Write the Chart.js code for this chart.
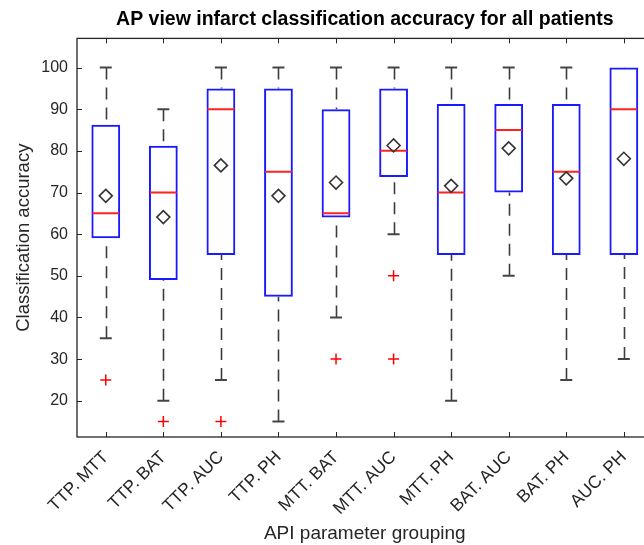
<!DOCTYPE html>
<html>
<head>
<meta charset="utf-8">
<script src="https://cdn.jsdelivr.net/npm/chart.js@4/dist/chart.umd.min.js"></script>
<style>
  html, body { margin: 0; padding: 0; background: #fff; overflow: hidden; }
  #grafico { display: block; }
</style>
</head>
<body>
<canvas id="grafico" width="668" height="545" style="width:668px;height:545px"></canvas>
<script>
// parameter pairs on the x axis
const grupos = ["TTP. MTT", "TTP. BAT", "TTP. AUC", "TTP. PH", "MTT. BAT",
                "MTT. AUC", "MTT. PH", "BAT. AUC", "BAT. PH", "AUC. PH"];

// box statistics per group (accuracy, %)
const bigoteInf = [35, 20, 25, 15, 40, 60, 20, 50, 25, 30];
const cuartil1  = [59, 49, 55, 45, 64, 73.75, 55, 70, 55, 55];
const mediana   = [65, 70, 90, 75, 65, 80, 70, 85, 75, 90];
const cuartil3  = [86.25, 81.25, 95, 95, 90, 95, 91.25, 91.25, 91.25, 100];
const bigoteSup = [100, 90, 100, 100, 100, 100, 100, 100, 100, 100];
const media     = [69.2, 64.1, 76.5, 69.2, 72.4, 81.3, 71.6, 80.6, 73.4, 78.1];
const atipicos  = [[25], [15], [15], [], [30], [50, 30], [], [], [], []];

const ticksY = [20, 30, 40, 50, 60, 70, 80, 90, 100];

const fuente = "'Liberation Sans', Arial, sans-serif";
const gris = "#333333";

// dashed whiskers from the caps to the box edges
const bigotes = {
  id: "bigotes",
  beforeDatasetsDraw(chart) {
    const { ctx, scales: { x, y } } = chart;
    ctx.save();
    ctx.strokeStyle = "#3c3c3c";
    ctx.lineWidth = 1.6;
    ctx.setLineDash([12, 8]);
    grupos.forEach((g, i) => {
      const px = Math.round(x.getPixelForValue(i)) + 0.5;
      ctx.beginPath();
      ctx.moveTo(px, y.getPixelForValue(bigoteSup[i]));
      ctx.lineTo(px, y.getPixelForValue(cuartil3[i]));
      ctx.stroke();
      ctx.beginPath();
      ctx.moveTo(px, y.getPixelForValue(bigoteInf[i]));
      ctx.lineTo(px, y.getPixelForValue(cuartil1[i]));
      ctx.stroke();
    });
    ctx.restore();
  }
};

// axes box with inward ticks
const marco = {
  id: "marco",
  afterDatasetsDraw(chart) {
    const { ctx, chartArea: a, scales: { x, y } } = chart;
    ctx.save();
    ctx.strokeStyle = "#262626";
    ctx.lineWidth = 1.3;
    ctx.strokeRect(a.left, a.top, a.right - a.left, a.bottom - a.top);
    ctx.lineWidth = 1;
    ctx.beginPath();
    grupos.forEach((g, i) => {
      const px = Math.round(x.getPixelForValue(i)) + 0.5;
      ctx.moveTo(px, a.bottom); ctx.lineTo(px, a.bottom - 5);
      ctx.moveTo(px, a.top); ctx.lineTo(px, a.top + 5);
    });
    ticksY.forEach(v => {
      const py = Math.round(y.getPixelForValue(v)) + 0.5;
      ctx.moveTo(a.left, py); ctx.lineTo(a.left + 5, py);
      ctx.moveTo(a.right, py); ctx.lineTo(a.right - 5, py);
    });
    ctx.stroke();
    ctx.restore();
  }
};

const puntosAtipicos = [];
atipicos.forEach((lista, i) => lista.forEach(v => puntosAtipicos.push({ x: grupos[i], y: v })));

// a cap that coincides with the box edge stays hidden behind it
const topesSup = bigoteSup.map((v, i) => (v === cuartil3[i] ? null : v));
const topesInf = bigoteInf.map((v, i) => (v === cuartil1[i] ? null : v));

new Chart(document.getElementById("grafico"), {
  type: "bar",
  data: {
    labels: grupos,
    datasets: [
      {
        type: "line",
        label: "media",
        data: media,
        showLine: false,
        pointStyle: "rectRot",
        pointRadius: 6.5,
        pointBorderWidth: 1.6,
        borderColor: gris,
        backgroundColor: "rgba(255,255,255,0)",
        order: 0
      },
      {
        type: "line",
        label: "atipicos",
        data: puntosAtipicos,
        showLine: false,
        pointStyle: "cross",
        pointRadius: 5.5,
        pointBorderWidth: 1.5,
        borderColor: "#ff0000",
        order: 1
      },
      {
        type: "line",
        label: "mediana",
        data: mediana,
        showLine: false,
        pointStyle: "line",
        pointRadius: 13.4,
        pointBorderWidth: 2,
        borderColor: "#ff2020",
        order: 2
      },
      {
        label: "caja",
        data: grupos.map((g, i) => [cuartil1[i], cuartil3[i]]),
        backgroundColor: "rgba(255,255,255,0)",
        borderColor: "#1a1aff",
        borderWidth: 2,
        borderSkipped: false,
        categoryPercentage: 1,
        barPercentage: 0.5,
        order: 3
      },
      {
        type: "line",
        label: "tope superior",
        data: topesSup,
        showLine: false,
        pointStyle: "line",
        pointRadius: 6,
        pointBorderWidth: 2,
        borderColor: "#444444",
        order: 4
      },
      {
        type: "line",
        label: "tope inferior",
        data: topesInf,
        showLine: false,
        pointStyle: "line",
        pointRadius: 6,
        pointBorderWidth: 2,
        borderColor: "#444444",
        order: 4
      }
    ]
  },
  options: {
    responsive: false,
    animation: false,
    events: [],
    layout: { padding: { left: 0, right: 0, top: 0, bottom: 0 } },
    plugins: {
      legend: { display: false },
      tooltip: { enabled: false },
      title: {
        display: true,
        fullSize: false,
        text: "AP view infarct classification accuracy for all patients",
        color: "#000",
        font: { family: fuente, size: 19.5, weight: "bold" },
        padding: { top: 7.5, bottom: 7.5 }
      }
    },
    scales: {
      x: {
        grid: { display: false, drawTicks: false },
        border: { display: false },
        ticks: {
          color: "#262626",
          font: { family: fuente, size: 17.5 },
          maxRotation: 45,
          minRotation: 45,
          autoSkip: false,
          padding: 10
        },
        title: {
          display: true,
          text: "API parameter grouping",
          color: "#262626",
          font: { family: fuente, size: 19 },
          padding: { top: 0, bottom: 0 }
        },
        afterFit(scale) { scale.height = 108; }
      },
      y: {
        min: 11.3,
        max: 107,
        grid: { display: false, drawTicks: false },
        border: { display: false },
        afterBuildTicks(scale) { scale.ticks = ticksY.map(v => ({ value: v })); },
        ticks: {
          color: "#262626",
          font: { family: fuente, size: 16 },
          padding: 9
        },
        title: {
          display: true,
          text: "Classification accuracy",
          color: "#262626",
          font: { family: fuente, size: 18.5 },
          padding: { top: 13, bottom: 0 }
        },
        afterFit(scale) { scale.width = 77; }
      }
    }
  },
  plugins: [bigotes, marco]
});
</script>
</body>
</html>
